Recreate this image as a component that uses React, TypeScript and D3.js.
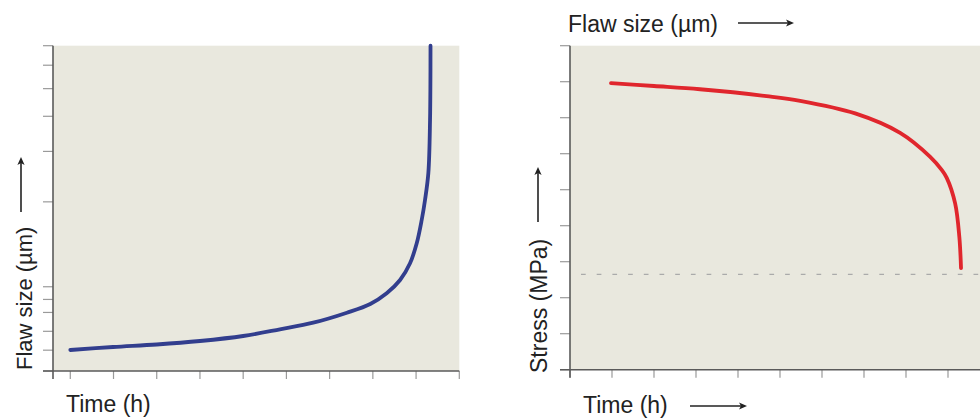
import React from "react";
import * as d3 from "d3";

// ---- Data ----
// Left panel: flaw size vs time
const leftTimeTicks = [0, 1, 2, 3, 4, 5, 6, 7, 8, 9];
const leftSizeTicks = [0, 6.4, 12.2, 18.0, 22.0, 25.9, 52.0, 67.5, 78.3, 86.8, 94.0, 100];
const flawTime = [0, 0.99, 2.0, 3.0, 4.0, 4.85, 5.62, 6.4, 6.94, 7.32, 7.63, 7.86, 8.015, 8.13, 8.207, 8.284, 8.323, 8.334];
const flawSize = [6.46, 7.38, 8.15, 9.22, 10.76, 12.82, 14.85, 17.92, 20.6, 23.89, 27.97, 33.11, 39.26, 46.42, 52.57, 60.87, 77.16, 100];

// Right panel: stress vs time
const rightTimeTicks = [0, 1, 2, 3, 4, 5, 6, 7, 8, 9];
const rightStressTicks = [0, 1, 2, 3, 4, 5, 6, 7, 8, 9];
const stressTime = [0.976, 2.0, 3.095, 4.68, 5.48, 6.79, 7.86, 8.57, 8.85, 8.97, 9.17, 9.27, 9.31];
const stressValue = [7.96, 7.88, 7.79, 7.6, 7.47, 7.12, 6.58, 5.92, 5.55, 5.33, 4.62, 3.69, 2.82];
const thresholdStress = [2.65];

const BG = "#e9e8de";
const AXIS = "#5a5a5a";
const TICK = "#9a9a9a";
const TEXT = "#222";
const FONT = "'Liberation Sans', Arial, Helvetica, sans-serif";

function Arrow({ x1, y1, x2, y2 }: { x1: number; y1: number; x2: number; y2: number }) {
  const ang = Math.atan2(y2 - y1, x2 - x1);
  const L = 8, W = 3.6;
  const bx = x2 - L * Math.cos(ang), by = y2 - L * Math.sin(ang);
  const px = -Math.sin(ang) * W, py = Math.cos(ang) * W;
  const head = `M${x2},${y2} L${bx + px},${by + py} L${bx + L * 0.25 * Math.cos(ang)},${by + L * 0.25 * Math.sin(ang)} L${bx - px},${by - py} Z`;
  return (
    <g>
      <line x1={x1} y1={y1} x2={bx + 2 * Math.cos(ang)} y2={by + 2 * Math.sin(ang)} stroke={TEXT} strokeWidth={1.6} />
      <path d={head} fill={TEXT} />
    </g>
  );
}

export default function App() {
  // Left scales
  const lx = d3.scaleLinear().domain([-0.4, 9]).range([53, 459.3]);
  const ly = d3.scaleLinear().domain([0, 100]).range([371, 45.7]);
  // Right scales
  const rx = d3.scaleLinear().domain([0, 9.762]).range([570, 980]);
  const ry = d3.scaleLinear().domain([0, 9]).range([369.7, 45.7]);

  const leftLine = d3
    .line<number>()
    .x((_, i) => lx(flawTime[i]))
    .y((d) => ly(d))
    .curve(d3.curveCatmullRom.alpha(0.5));
  const rightLine = d3
    .line<number>()
    .x((_, i) => rx(stressTime[i]))
    .y((d) => ry(d))
    .curve(d3.curveCatmullRom.alpha(0.5));

  return (
    <svg
      width={980}
      height={419}
      style={{ position: "absolute", left: 0, top: 0, background: "#fff" }}
      fontFamily={FONT}
    >
      {/* Left panel */}
      <rect x={lx(-0.4)} y={ly(100)} width={lx(9) - lx(-0.4)} height={ly(0) - ly(100)} fill={BG} />
      {leftSizeTicks.map((t, i) => (
        <line key={"lyt" + i} x1={43} x2={lx(-0.4)} y1={ly(t)} y2={ly(t)} stroke={TICK} strokeWidth={1.2} />
      ))}
      {leftTimeTicks.map((t, i) => (
        <line key={"lxt" + i} x1={lx(t)} x2={lx(t)} y1={ly(0)} y2={ly(0) + 8} stroke={TICK} strokeWidth={1.2} />
      ))}
      <line x1={lx(-0.4)} x2={lx(-0.4)} y1={ly(100)} y2={ly(0) + 8} stroke={AXIS} strokeWidth={1.6} />
      <line x1={43} x2={lx(9)} y1={ly(0)} y2={ly(0)} stroke={AXIS} strokeWidth={1.6} />
      <path d={leftLine(flawSize) || ""} fill="none" stroke="#323e8e" strokeWidth={3.8} strokeLinecap="round" />

      <text x={66} y={412} fontSize={23} fill={TEXT}>Time (h)</text>
      <text transform="translate(32,370) rotate(-90)" fontSize={22} fill={TEXT}>Flaw size (µm)</text>
      <Arrow x1={21} y1={212} x2={21} y2={157} />

      {/* Right panel */}
      <rect x={rx(0)} y={ry(9)} width={980 - rx(0)} height={ry(0) - ry(9)} fill={BG} />
      {rightStressTicks.map((t, i) => (
        <line key={"ryt" + i} x1={560} x2={rx(0)} y1={ry(t)} y2={ry(t)} stroke={TICK} strokeWidth={1.2} />
      ))}
      {rightTimeTicks.map((t, i) => (
        <line key={"rxt" + i} x1={rx(t)} x2={rx(t)} y1={ry(0)} y2={ry(0) + 8} stroke={TICK} strokeWidth={1.2} />
      ))}
      <line x1={rx(0)} x2={rx(0)} y1={ry(9)} y2={ry(0) + 8} stroke={AXIS} strokeWidth={1.6} />
      <line x1={560} x2={980} y1={ry(0)} y2={ry(0)} stroke={AXIS} strokeWidth={1.6} />
      {thresholdStress.map((s, i) => (
        <line
          key={"th" + i}
          x1={rx(0)}
          x2={980}
          y1={ry(s)}
          y2={ry(s)}
          stroke="#aaa"
          strokeWidth={1.3}
          strokeDasharray="4.7,11"
          strokeDashoffset={-11}
        />
      ))}
      <path d={rightLine(stressValue) || ""} fill="none" stroke="#e0262d" strokeWidth={3.8} strokeLinecap="round" />

      <text x={568} y={32} fontSize={23} fill={TEXT}>Flaw size (µm)</text>
      <Arrow x1={738} y1={23} x2={794} y2={23} />
      <text x={583} y={413} fontSize={23} fill={TEXT}>Time (h)</text>
      <Arrow x1={690} y1={406} x2={747} y2={406} />
      <text transform="translate(547,373) rotate(-90)" fontSize={23} fill={TEXT}>Stress (MPa)</text>
      <Arrow x1={538} y1={222} x2={538} y2={167} />
    </svg>
  );
}
